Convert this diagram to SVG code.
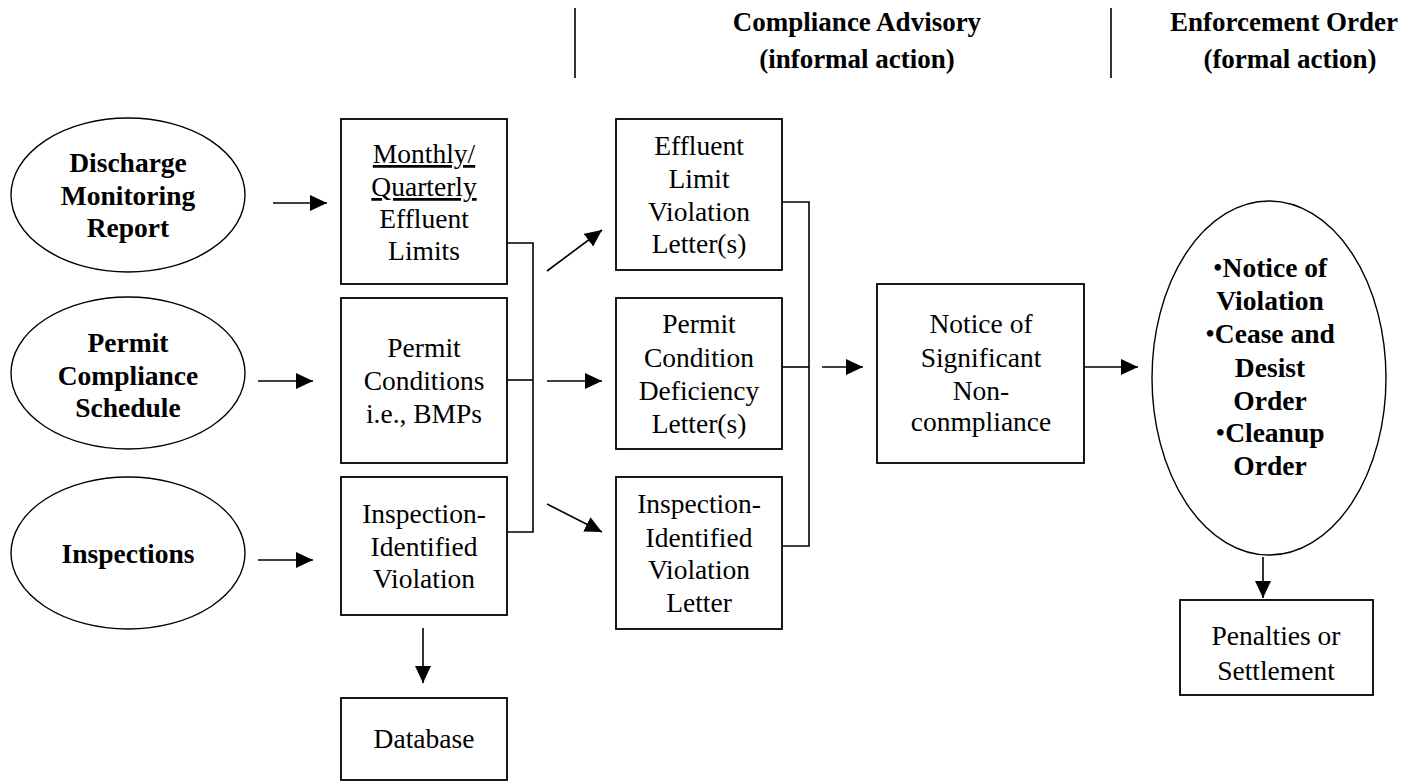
<svg xmlns="http://www.w3.org/2000/svg" width="1408" height="781" viewBox="0 0 1408 781">
  <style>
    text { font-family: "Liberation Serif", "Times New Roman", serif; font-size: 27.5px; fill: #000; text-anchor: middle; }
    .b { font-weight: bold; }
    .bl { font-weight: normal; }
    .hd { font-weight: bold; font-size: 27px; }
    .box { fill: #fff; stroke: #000; stroke-width: 1.8; }
    .ell { fill: #fff; stroke: #000; stroke-width: 1.4; }
    .ln { fill: none; stroke: #000; stroke-width: 1.6; }
    .arr { fill: none; stroke: #000; stroke-width: 1.6; marker-end: url(#head); }
    .u { text-decoration: underline; }
  </style>
  <defs>
    <marker id="head" markerUnits="userSpaceOnUse" markerWidth="18" markerHeight="17" refX="17" refY="8" orient="auto">
      <path d="M0,0 L17,8 L0,16 Z" fill="#000"/>
    </marker>
  </defs>
  <rect width="1408" height="781" fill="#fff"/>

  <!-- column headers -->
  <g id="headers">
    <line class="ln" x1="575" y1="8" x2="575" y2="78"/>
    <line class="ln" x1="1111" y1="8" x2="1111" y2="78"/>
    <text class="hd" x="857" y="31">Compliance Advisory</text>
    <text class="hd" x="857" y="68">(informal action)</text>
    <text class="hd" x="1284" y="31">Enforcement Order</text>
    <text class="hd" x="1290" y="68">(formal action)</text>
  </g>

  <!-- sources -->
  <g id="dmr">
    <ellipse class="ell" cx="128" cy="195" rx="117" ry="77"/>
    <text class="b" x="128" y="172">Discharge</text>
    <text class="b" x="128" y="205">Monitoring</text>
    <text class="b" x="128" y="237">Report</text>
  </g>
  <g id="pcs">
    <ellipse class="ell" cx="128" cy="373" rx="117" ry="76"/>
    <text class="b" x="128" y="352">Permit</text>
    <text class="b" x="128" y="385">Compliance</text>
    <text class="b" x="128" y="417">Schedule</text>
  </g>
  <g id="insp">
    <ellipse class="ell" cx="128" cy="553" rx="117" ry="76"/>
    <text class="b" x="128" y="563">Inspections</text>
  </g>

  <!-- violation types -->
  <g id="limits">
    <rect class="box" x="341" y="119" width="166" height="165"/>
    <text class="u" x="424" y="163">Monthly/</text>
    <text class="u" x="424" y="196">Quarterly</text>
    <text x="424" y="228">Effluent</text>
    <text x="424" y="260">Limits</text>
  </g>
  <g id="conditions">
    <rect class="box" x="341" y="298" width="166" height="165"/>
    <text x="424" y="357">Permit</text>
    <text x="424" y="390">Conditions</text>
    <text x="424" y="423">i.e., BMPs</text>
  </g>
  <g id="inspviol">
    <rect class="box" x="341" y="477" width="166" height="138"/>
    <text x="424" y="523">Inspection-</text>
    <text x="424" y="556">Identified</text>
    <text x="424" y="588">Violation</text>
  </g>
  <g id="database">
    <rect class="box" x="341" y="698" width="166" height="82"/>
    <text x="424" y="748">Database</text>
  </g>

  <!-- letters -->
  <g id="elv">
    <rect class="box" x="616" y="119" width="166" height="151"/>
    <text x="699" y="155">Effluent</text>
    <text x="699" y="188">Limit</text>
    <text x="699" y="221">Violation</text>
    <text x="699" y="253">Letter(s)</text>
  </g>
  <g id="pcd">
    <rect class="box" x="616" y="298" width="166" height="151"/>
    <text x="699" y="333">Permit</text>
    <text x="699" y="367">Condition</text>
    <text x="699" y="400">Deficiency</text>
    <text x="699" y="433">Letter(s)</text>
  </g>
  <g id="ivl">
    <rect class="box" x="616" y="477" width="166" height="152"/>
    <text x="699" y="513">Inspection-</text>
    <text x="699" y="547">Identified</text>
    <text x="699" y="579">Violation</text>
    <text x="699" y="612">Letter</text>
  </g>

  <g id="nsn">
    <rect class="box" x="877" y="284" width="207" height="179"/>
    <text x="981" y="333">Notice of</text>
    <text x="981" y="367">Significant</text>
    <text x="981" y="400">Non-</text>
    <text x="981" y="431">conmpliance</text>
  </g>

  <g id="orders">
    <ellipse class="ell" cx="1269" cy="378" rx="117" ry="177"/>
    <text class="b" x="1270" y="277"><tspan class="bl">•</tspan>Notice of</text>
    <text class="b" x="1270" y="310">Violation</text>
    <text class="b" x="1270" y="343"><tspan class="bl">•</tspan>Cease and</text>
    <text class="b" x="1270" y="377">Desist</text>
    <text class="b" x="1270" y="410">Order</text>
    <text class="b" x="1270" y="442"><tspan class="bl">•</tspan>Cleanup</text>
    <text class="b" x="1270" y="475">Order</text>
  </g>

  <g id="penalties">
    <rect class="box" x="1180" y="600" width="193" height="95"/>
    <text x="1276" y="645">Penalties or</text>
    <text x="1276" y="680">Settlement</text>
  </g>

  <!-- connectors -->
  <g id="connectors">
    <line class="arr" x1="273" y1="203" x2="327" y2="203"/>
    <line class="arr" x1="258" y1="381" x2="313" y2="381"/>
    <line class="arr" x1="258" y1="560" x2="313" y2="560"/>
    <polyline class="ln" points="507,243 533,243 533,532 507,532"/>
    <line class="ln" x1="507" y1="380" x2="533" y2="380"/>
    <line class="arr" x1="547" y1="271" x2="602" y2="230"/>
    <line class="arr" x1="547" y1="381" x2="602" y2="381"/>
    <line class="arr" x1="547" y1="504" x2="602" y2="532"/>
    <line class="arr" x1="423" y1="628" x2="423" y2="683"/>
    <polyline class="ln" points="782,202 809,202 809,546 782,546"/>
    <line class="ln" x1="782" y1="367" x2="809" y2="367"/>
    <line class="arr" x1="822" y1="367" x2="863" y2="367"/>
    <line class="arr" x1="1084" y1="367" x2="1138" y2="367"/>
    <line class="arr" x1="1263" y1="557" x2="1263" y2="598"/>
  </g>
</svg>
